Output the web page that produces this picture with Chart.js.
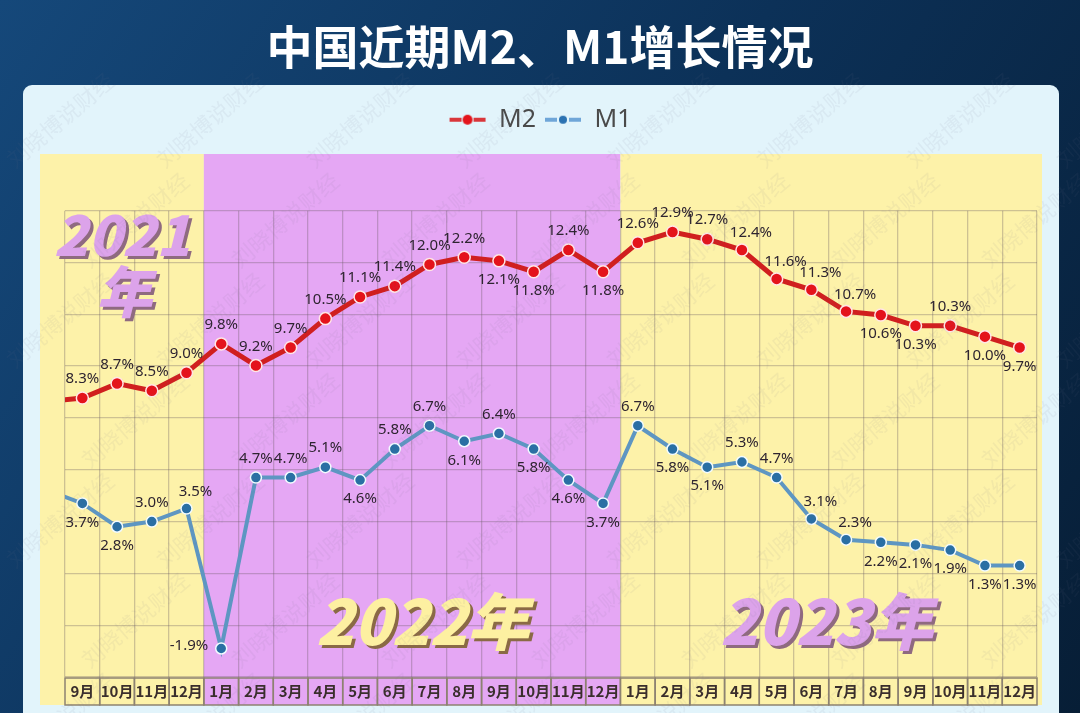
<!DOCTYPE html>
<html>
<head>
<meta charset="utf-8">
<script src="https://cdn.jsdelivr.net/npm/chart.js@4.4.1/dist/chart.umd.min.js"></script>
<style>
  html, body { margin: 0; padding: 0; background: #0c2f52; }
</style>
</head>
<body>
<canvas id="m2m1Chart" width="1080" height="713"></canvas>
<script>
// first month (2021 Aug) sits just left of the plot, only its line segment shows
const months = ["8月", "9月", "10月", "11月", "12月",
  "1月", "2月", "3月", "4月", "5月", "6月", "7月", "8月", "9月", "10月", "11月", "12月",
  "1月", "2月", "3月", "4月", "5月", "6月", "7月", "8月", "9月", "10月", "11月", "12月"];
const m2Values = [8.2, 8.3, 8.7, 8.5, 9.0,
  9.8, 9.2, 9.7, 10.5, 11.1, 11.4, 12.0, 12.2, 12.1, 11.8, 12.4, 11.8,
  12.6, 12.9, 12.7, 12.4, 11.6, 11.3, 10.7, 10.6, 10.3, 10.3, 10.0, 9.7];
const m1Values = [4.2, 3.7, 2.8, 3.0, 3.5,
  -1.9, 4.7, 4.7, 5.1, 4.6, 5.8, 6.7, 6.1, 6.4, 5.8, 4.6, 3.7,
  6.7, 5.8, 5.1, 5.3, 4.7, 3.1, 2.3, 2.2, 2.1, 1.9, 1.3, 1.3];
const yearLabels = ["2021年", "2022年", "2023年"];
const yearFirstIdx = [1, 5, 17];
const yearLastIdx = [4, 16, 28];

// where each value label sits: a = above, b = below, ar = above right, l = left
const m2LabelPos = [null, "a", "a", "a", "a",
  "a", "a", "a", "a", "a", "a", "a", "a", "b", "b", "a", "b",
  "a", "a", "a", "ar", "ar", "ar", "ar", "b", "b", "a", "b", "b"];
const m1LabelPos = [null, "b", "b", "a", "ar",
  "l", "a", "a", "a", "b", "a", "a", "b", "a", "b", "b", "b",
  "a", "b", "b", "a", "a", "ar", "ar", "b", "b", "b", "b", "b"];

const CJK = "'Noto Sans CJK SC', 'Noto Sans', sans-serif";
const YELLOW = "#fdf2a9";
const PURPLE = "#e5a7f4";
const GRID = "rgba(105, 90, 100, 0.32)";

function legendIcon(lineColor, dotColor, r) {
  const cv = document.createElement("canvas");
  cv.width = 38; cv.height = 14;
  const g = cv.getContext("2d");
  g.strokeStyle = lineColor;
  g.lineWidth = 4;
  g.beginPath();
  g.moveTo(1, 7); g.lineTo(13, 7);
  g.moveTo(25, 7); g.lineTo(37, 7);
  g.stroke();
  g.fillStyle = dotColor;
  g.beginPath();
  g.arc(19, 7, r, 0, Math.PI * 2);
  g.fill();
  return cv;
}
const legendIcons = [legendIcon("#d9363a", "#e3141b", 5), legendIcon("#6fa6d8", "#2b72b2", 4)];

// background, panel and the year bands
const panelPlugin = {
  id: "panel",
  beforeDraw(chart) {
    const c = chart.ctx;
    const x = chart.scales.x;
    c.save();
    const bg = c.createLinearGradient(0, 0, 1080, 713);
    bg.addColorStop(0, "#15487a");
    bg.addColorStop(0.5, "#0c3158");
    bg.addColorStop(1, "#071e36");
    c.fillStyle = bg;
    c.fillRect(0, 0, 1080, 713);

    c.fillStyle = "#e2f4fb";
    c.beginPath();
    c.roundRect(23, 85, 1036, 650, 9);
    c.fill();

    const half = (x.getPixelForValue(2) - x.getPixelForValue(1)) / 2;
    yearFirstIdx.forEach((first, i) => {
      let left = x.getPixelForValue(first) - half;
      let right = x.getPixelForValue(yearLastIdx[i]) + half;
      if (i === 0) left = 40;
      if (i === yearFirstIdx.length - 1) right = 1042;
      c.fillStyle = i === 1 ? PURPLE : YELLOW;
      c.fillRect(left, 154, right - left, 705 - 154);
    });
    c.restore();
  },
  beforeDatasetsDraw(chart) {
    const c = chart.ctx;
    const x = chart.scales.x;
    const area = chart.chartArea;
    const half = (x.getPixelForValue(2) - x.getPixelForValue(1)) / 2;
    c.save();
    // month boxes under the plot
    c.strokeStyle = "#8d8271";
    c.lineWidth = 1.5;
    for (let i = 1; i < months.length; i++) {
      const cx = x.getPixelForValue(i);
      c.strokeRect(cx - half, area.bottom + 1, half * 2, 27);
    }
    // big year captions
    c.textBaseline = "alphabetic";
    c.textAlign = "center";
    const drawYear = (txt, px, py, fill, shade) => {
      c.fillStyle = shade;
      c.fillText(txt, px + 3, py + 3);
      c.fillStyle = fill;
      c.fillText(txt, px, py);
    };
    c.font = "italic 900 56px " + CJK;
    drawYear(yearLabels[0].slice(0, 4), 122, 256, "#dca3ea", "#8f6a80");
    c.font = "italic 900 56px " + CJK;
    drawYear(yearLabels[0].slice(4), 124, 313, "#dca3ea", "#8f6a80");
    c.font = "italic 900 62px " + CJK;
    c.textAlign = "left";
    drawYear(yearLabels[1], 316, 645, "#fdf0a1", "#8a6a45");
    drawYear(yearLabels[2], 720, 645, "#dca3ea", "#8f6a80");
    c.restore();
  },
  afterDraw(chart) {
    // faint watermark
    const c = chart.ctx;
    c.save();
    c.font = "22px " + CJK;
    c.fillStyle = "rgba(120, 110, 140, 0.08)";
    c.textAlign = "center";
    c.textBaseline = "middle";
    for (let row = 0; row < 7; row++) {
      for (let col = 0; col < 8; col++) {
        const px = 60 + col * 150 + (row % 2) * 75;
        const py = 120 + row * 100;
        c.save();
        c.translate(px, py);
        c.rotate(-0.7);
        c.fillText("刘晓博说财经", 0, 0);
        c.restore();
      }
    }
    c.restore();
  }
};

// value labels next to the points
const labelPlugin = {
  id: "valueLabels",
  afterDatasetsDraw(chart) {
    const c = chart.ctx;
    c.save();
    c.font = "15px 'Noto Sans', sans-serif";
    c.fillStyle = "#2e2430";
    c.textBaseline = "middle";
    chart.data.datasets.forEach((ds, di) => {
      const meta = chart.getDatasetMeta(di);
      const pos = di === 0 ? m2LabelPos : m1LabelPos;
      meta.data.forEach((pt, i) => {
        const p = pos[i];
        if (!p) return;
        let dx = 0, dy = p === "b" ? 19 : -19;
        c.textAlign = "center";
        if (p === "ar") { dx = 9; dy = -17; }
        if (p === "l") { dx = -13; dy = -3; c.textAlign = "right"; }
        c.fillText(ds.data[i].toFixed(1) + "%", pt.x + dx, pt.y + dy);
      });
    });
    c.restore();
  }
};

const ctx = document.getElementById("m2m1Chart").getContext("2d");
const chart = new Chart(ctx, {
  type: "line",
  data: {
    labels: months,
    datasets: [
      {
        label: "M2",
        data: m2Values,
        yAxisID: "y2",
        borderColor: "#d01f1f",
        borderWidth: 5,
        pointRadius: 6,
        pointBackgroundColor: "#e4131b",
        pointBorderColor: "#ffe6e6",
        pointBorderWidth: 1.5,
        tension: 0
      },
      {
        label: "M1",
        data: m1Values,
        yAxisID: "y",
        borderColor: "#5e96c2",
        borderWidth: 4,
        pointRadius: 5.5,
        pointBackgroundColor: "#2a6fa4",
        pointBorderColor: "#f2fbff",
        pointBorderWidth: 1.5,
        tension: 0
      }
    ]
  },
  options: {
    responsive: false,
    animation: false,
    layout: { padding: { left: 43, right: 43, top: 0, bottom: 0 } },
    plugins: {
      title: {
        display: true,
        text: "中国近期M2、M1增长情况",
        color: "#ffffff",
        font: { family: CJK, size: 46, weight: "bold" },
        padding: { top: 19, bottom: 25 }
      },
      legend: {
        display: true,
        labels: {
          usePointStyle: true,
          pointStyleWidth: 38,
          padding: 8,
          color: "#4a4a4a",
          font: { family: "'Noto Sans', sans-serif", size: 25 },
          generateLabels(ch) {
            const items = Chart.defaults.plugins.legend.labels.generateLabels(ch);
            items.forEach((it, i) => { it.pointStyle = legendIcons[i]; });
            return items;
          }
        }
      },
      tooltip: { enabled: false }
    },
    scales: {
      x: {
        min: 1,
        offset: true,
        grid: { offset: true, color: GRID, lineWidth: 1.3, drawTicks: false },
        border: { display: false },
        ticks: { padding: 5, color: "#3a2e2c", font: { family: CJK, size: 15, weight: "bold" }, maxRotation: 0, autoSkip: false },
        afterFit(s) { s.height = 36; }
      },
      xTop: {
        type: "category",
        axis: "x",
        position: "top",
        grid: { display: false },
        ticks: { display: false },
        border: { display: false },
        afterFit(s) { s.height = 68.5; }
      },
      y: {
        min: -3,
        max: 15,
        ticks: { stepSize: 2, display: false },
        grid: { color: GRID, lineWidth: 1.3, drawTicks: false },
        border: { display: false },
        afterFit(s) { s.width = 22; }
      },
      y2: {
        display: false,
        min: 0.57,
        max: 13.49
      }
    }
  },
  plugins: [panelPlugin, labelPlugin]
});
</script>
</body>
</html>
